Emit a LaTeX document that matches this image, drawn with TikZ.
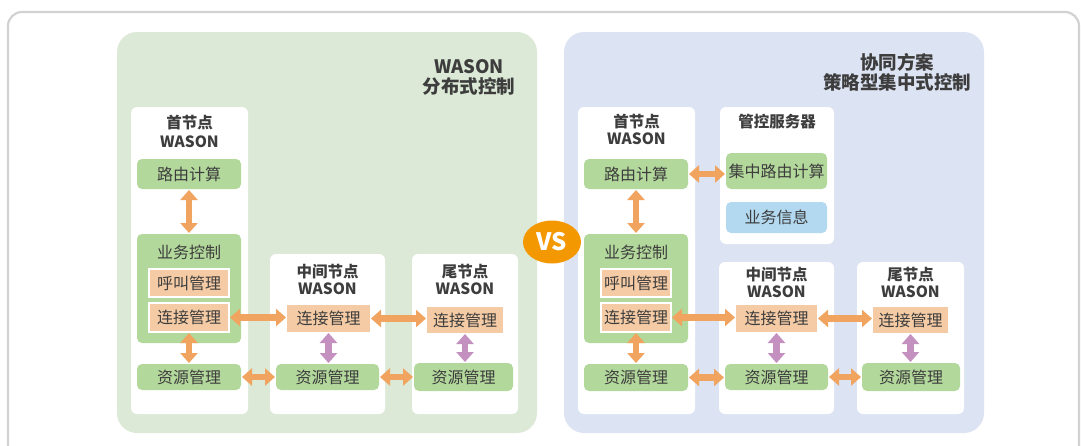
\documentclass[tikz,border=0pt]{standalone}
\usepackage{fontspec}
\setmainfont{Noto Sans CJK SC}
\usetikzlibrary{arrows.meta,shapes.geometric}
\definecolor{txt}{HTML}{3D3D3D}
\definecolor{pgreen}{HTML}{DBE9D6}
\definecolor{pblue}{HTML}{DCE3F2}
\definecolor{bgreen}{HTML}{B3D89B}
\definecolor{borange}{HTML}{F5CBA5}
\definecolor{bblue}{HTML}{B2D9F0}
\definecolor{arror}{HTML}{F0A460}
\definecolor{arrpu}{HTML}{C490C0}
\definecolor{vsor}{HTML}{F39800}
\definecolor{frame}{HTML}{D2D2D2}
\newcommand\mybox[7]{%
  \pgfmathsetmacro\cx{(#3+#5)/2}\pgfmathsetmacro\cy{(#4+#6)/2}%
  \pgfmathsetmacro\ww{#5-#3}\pgfmathsetmacro\hh{#6-#4}%
  \node[#1, minimum width=\ww pt, minimum height=\hh pt] (#2) at (\cx,\cy) {#7};}
\begin{document}
\begin{tikzpicture}[x=1pt,y=-1pt,
  every node/.style={inner sep=0pt, outer sep=0pt, text=txt},
  panel/.style={rounded corners=20pt},
  whitebox/.style={fill=white, rounded corners=6pt},
  gbox/.style={fill=bgreen, rounded corners=5pt, font=\fontsize{16}{18}\selectfont},
  obox/.style={fill=borange, font=\fontsize{16}{18}\selectfont},
  obboxw/.style={fill=borange, draw=white, line width=1.5pt, font=\fontsize{16}{18}\selectfont},
  bbox/.style={fill=bblue, rounded corners=5pt, font=\fontsize{16}{18}\selectfont},
  ttl/.style={font=\bfseries\fontsize{15.5}{17}\selectfont},
  ptitle/.style={font=\bfseries\fontsize{18.5}{20}\selectfont, align=center},
  lbl/.style={font=\fontsize{16}{18}\selectfont},
  tipx/.tip={Triangle[width=17pt,length=10pt]},
  oarr/.style={draw=arror, line width=6.5pt, tipx-tipx, shorten <=1pt, shorten >=1pt},
  parr/.style={draw=arrpu, line width=6.5pt, tipx-tipx, shorten <=1pt, shorten >=1pt}
]
\useasboundingbox (0,0) rectangle (1081,445);
\clip (0,0) rectangle (1081,445);
% outer frame
\draw[frame, line width=2.2pt, rounded corners=14pt] (8,12) rectangle (1079,470);

% ================= LEFT PANEL =================
\mybox{panel, fill=pgreen}{Lpanel}{117}{32}{537}{433}{}
\node[ptitle] (Ltitle) at (469,77) {WASON\\分布式控制};

% first node
\mybox{whitebox}{LA}{131}{107}{248}{414}{}
\node[ttl] (LAt1) at (189.5,123) {首节点};
\node[ttl] (LAt2) at (189.5,142) {WASON};
\mybox{gbox}{LAroute}{137}{159}{241}{189}{路由计算}
\mybox{gbox}{LAsvc}{137}{234}{241}{343}{}
\node[lbl] (LAsvct) at (189,252) {业务控制};
\mybox{obboxw}{LAcall}{149}{269}{229}{297}{呼叫管理}
\mybox{obboxw}{LAconn}{149}{303}{229}{332}{连接管理}
\mybox{gbox}{LAres}{137}{364}{241}{390}{资源管理}

% middle node
\mybox{whitebox}{LB}{270}{254}{385}{414}{}
\node[ttl] (LBt1) at (327.5,272) {中间节点};
\node[ttl] (LBt2) at (327.5,289) {WASON};
\mybox{obox}{LBconn}{287}{305}{370}{332}{连接管理}
\mybox{gbox}{LBres}{276}{364}{379}{390}{资源管理}

% tail node
\mybox{whitebox}{LC}{412}{254}{518}{414}{}
\node[ttl] (LCt1) at (465,272) {尾节点};
\node[ttl] (LCt2) at (465,289) {WASON};
\mybox{obox}{LCconn}{427}{307}{503}{333}{连接管理}
\mybox{gbox}{LCres}{414}{363}{513}{391}{资源管理}

% left arrows
\draw[oarr] (LAroute.south) -- (LAroute.south |- LAsvc.north);
\draw[oarr] (LAconn.south) -- (LAconn.south |- LAres.north);
\draw[oarr] (LAconn.east) -- (LAconn.east -| LBconn.west);
\draw[oarr] (LBconn.east) -- (LBconn.east -| LCconn.west);
\draw[oarr] (LAres.east) -- (LAres.east -| LBres.west);
\draw[oarr] (LBres.east) -- (LBres.east -| LCres.west);
\draw[parr] (LBconn.south) -- (LBconn.south |- LBres.north);
\draw[parr] (LCconn.south) -- (LCconn.south |- LCres.north);

% ================= RIGHT PANEL =================
\mybox{panel, fill=pblue}{Rpanel}{564}{32}{984}{433}{}
\node[ptitle] (Rtitle) at (897,72) {协同方案\\策略型集中式控制};

% first node
\mybox{whitebox}{RA}{578}{107}{695}{414}{}
\node[ttl] (RAt1) at (636.5,122) {首节点};
\node[ttl] (RAt2) at (636.5,139) {WASON};
\mybox{gbox}{RAroute}{584}{159}{688}{189}{路由计算}
\mybox{gbox}{RAsvc}{584}{234}{688}{343}{}
\node[lbl] (RAsvct) at (636,252) {业务控制};
\mybox{obboxw}{RAcall}{601}{269}{671}{297}{呼叫管理}
\mybox{obboxw}{RAconn}{601}{303}{671}{332}{连接管理}
\mybox{gbox}{RAres}{584}{364}{688}{391}{资源管理}

% server
\mybox{whitebox}{RS}{720}{107}{834}{244}{}
\node[ttl] (RSt) at (777,122) {管控服务器};
\mybox{gbox}{RSroute}{726}{153}{827}{189}{集中路由计算}
\mybox{bbox}{RSinfo}{726}{202}{827}{233}{业务信息}

% middle node
\mybox{whitebox}{RB}{719}{262}{834}{414}{}
\node[ttl] (RBt1) at (776.5,275) {中间节点};
\node[ttl] (RBt2) at (776.5,292) {WASON};
\mybox{obox}{RBconn}{736}{305}{817}{332}{连接管理}
\mybox{gbox}{RBres}{725}{364}{828}{390}{资源管理}

% tail node
\mybox{whitebox}{RC}{857}{262}{964}{414}{}
\node[ttl] (RCt1) at (910.5,275) {尾节点};
\node[ttl] (RCt2) at (910.5,292) {WASON};
\mybox{obox}{RCconn}{873}{307}{948}{333}{连接管理}
\mybox{gbox}{RCres}{862}{363}{960}{391}{资源管理}

% right arrows
\draw[oarr] (RAroute.east) -- (RAroute.east -| RSroute.west);
\draw[oarr] (RAroute.south) -- (RAroute.south |- RAsvc.north);
\draw[oarr] (RAconn.south) -- (RAconn.south |- RAres.north);
\draw[oarr] (RAconn.east) -- (RAconn.east -| RBconn.west);
\draw[oarr] (RBconn.east) -- (RBconn.east -| RCconn.west);
\draw[oarr] (RAres.east) -- (RAres.east -| RBres.west);
\draw[oarr] (RBres.east) -- (RBres.east -| RCres.west);
\draw[parr] (RBconn.south) -- (RBconn.south |- RBres.north);
\draw[parr] (RCconn.south) -- (RCconn.south |- RCres.north);

% VS
\node[ellipse, fill=vsor, minimum width=58pt, minimum height=43pt, text=white, font=\bfseries\fontsize{24}{26}\selectfont] (vs) at (552,242) {VS};
\end{tikzpicture}
\end{document}
